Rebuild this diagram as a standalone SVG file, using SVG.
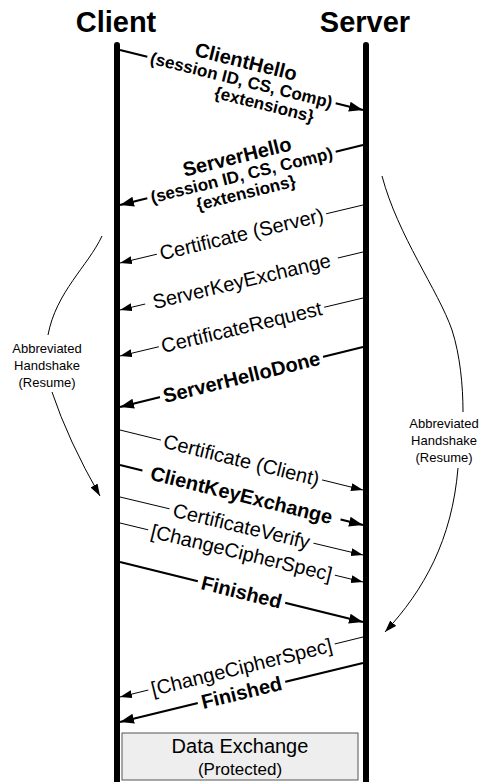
<svg xmlns="http://www.w3.org/2000/svg" width="481" height="782" viewBox="0 0 481 782">
<defs>
<marker id="ah" markerUnits="userSpaceOnUse" markerWidth="14" markerHeight="10" refX="12" refY="4" orient="auto"><path d="M0,0 L12,4 L0,8 z" fill="#000"/></marker>
<marker id="ahb" markerUnits="userSpaceOnUse" markerWidth="16" markerHeight="12" refX="14" refY="5" orient="auto"><path d="M0,0 L14,5 L0,10 z" fill="#000"/></marker>
<marker id="ahc" markerUnits="userSpaceOnUse" markerWidth="14" markerHeight="10" refX="12" refY="4" orient="auto"><path d="M0,0 L12,4 L0,8 z" fill="#000"/></marker>
</defs>
<style>
text{font-family:"Liberation Sans",Arial,sans-serif;fill:#000;text-anchor:middle}
.title{font-size:29px;font-weight:bold}
.lbl{font-size:20px}
.lblb{font-size:20px;font-weight:bold}
.sub{font-size:17px;font-weight:bold}
.note{font-size:13px}
.life{stroke:#000;stroke-width:6;stroke-linecap:round;fill:none}
.msg{stroke:#000;stroke-width:1;fill:none;marker-end:url(#ah)}
.msgb{stroke:#000;stroke-width:2.2;fill:none;marker-end:url(#ahb)}
.curve{stroke:#000;stroke-width:1;fill:none}
.bg{fill:#fff}
</style>

<g id="client">
<text class="title" x="116" y="32">Client</text>
<line class="life" x1="117" y1="45" x2="117" y2="790"/>
</g>
<g id="server">
<text class="title" x="365" y="32">Server</text>
<line class="life" x1="366" y1="45" x2="366" y2="790"/>
</g>

<g id="connectors">
<line class="msgb" x1="120" y1="50" x2="363" y2="110"/>
<line class="msgb" x1="363" y1="145" x2="120" y2="205"/>
<line class="msg" x1="363" y1="205" x2="120" y2="263"/>
<line class="msg" x1="363" y1="252" x2="120" y2="310"/>
<line class="msg" x1="363" y1="298" x2="120" y2="356"/>
<line class="msgb" x1="363" y1="347" x2="120" y2="407"/>
<line class="msg" x1="120" y1="430" x2="363" y2="490"/>
<line class="msgb" x1="120" y1="465" x2="363" y2="525"/>
<line class="msg" x1="120" y1="497" x2="363" y2="555"/>
<line class="msg" x1="120" y1="523" x2="363" y2="582"/>
<line class="msgb" x1="120" y1="562" x2="363" y2="622"/>
<line class="msg" x1="363" y1="637" x2="120" y2="697"/>
<line class="msgb" x1="363" y1="663" x2="120" y2="722"/>

<g transform="translate(241.5,80) rotate(13.87)">
<rect class="bg" x="-97" y="-8" width="194" height="16"/>
<text class="lblb" x="0" y="-12">ClientHello</text>
<text class="sub" x="0" y="6">(session ID, CS, Comp)</text>
<text class="sub" x="28" y="24">{extensions}</text>
</g>
<g transform="translate(241.5,175) rotate(-13.87)">
<rect class="bg" x="-97" y="-8" width="194" height="16"/>
<text class="lblb" x="0" y="-12">ServerHello</text>
<text class="sub" x="0" y="6">(session ID, CS, Comp)</text>
<text class="sub" x="0" y="24">{extensions}</text>
</g>
<g transform="translate(241.5,234) rotate(-13.42)">
<rect class="bg" x="-87" y="-8" width="174" height="16"/>
<text class="lbl" x="0" y="7">Certificate (Server)</text>
</g>
<g transform="translate(241.5,281) rotate(-13.42)">
<rect class="bg" x="-99" y="-8" width="198" height="16"/>
<text class="lbl" x="0" y="7">ServerKeyExchange</text>
</g>
<g transform="translate(241.5,327) rotate(-13.42)">
<rect class="bg" x="-85" y="-8" width="170" height="16"/>
<text class="lbl" x="0" y="7">CertificateRequest</text>
</g>
<g transform="translate(241.5,377) rotate(-13.87)">
<rect class="bg" x="-84" y="-8" width="168" height="16"/>
<text class="lblb" x="0" y="7">ServerHelloDone</text>
</g>
<g transform="translate(241.5,460) rotate(13.87)">
<rect class="bg" x="-83" y="-8" width="166" height="16"/>
<text class="lbl" x="0" y="7">Certificate (Client)</text>
</g>
<g transform="translate(241.5,495) rotate(13.87)">
<rect class="bg" x="-102" y="-8" width="204" height="16"/>
<text class="lblb" x="0" y="7">ClientKeyExchange</text>
</g>
<g transform="translate(241.5,526) rotate(13.42)">
<rect class="bg" x="-74" y="-8" width="148" height="16"/>
<text class="lbl" x="0" y="7">CertificateVerify</text>
</g>
<g transform="translate(241.5,552.5) rotate(13.65)">
<rect class="bg" x="-96" y="-8" width="192" height="16"/>
<text class="lbl" x="0" y="7">[ChangeCipherSpec]</text>
</g>
<g transform="translate(241.5,592) rotate(13.87)">
<rect class="bg" x="-45" y="-8" width="90" height="16"/>
<text class="lblb" x="0" y="7">Finished</text>
</g>
<g transform="translate(241.5,667) rotate(-13.87)">
<rect class="bg" x="-96" y="-8" width="192" height="16"/>
<text class="lbl" x="0" y="7">[ChangeCipherSpec]</text>
</g>
<g transform="translate(241.5,692.5) rotate(-13.65)">
<rect class="bg" x="-45" y="-8" width="90" height="16"/>
<text class="lblb" x="0" y="7">Finished</text>
</g>
</g>

<g id="note-left">
<path class="curve" d="M102,236 C88,266 56,292 48,335"/>
<path class="curve" d="M52,392 Q68,440 100,496" marker-end="url(#ahc)"/>
<text class="note" x="47" y="353">Abbreviated</text>
<text class="note" x="47" y="370">Handshake</text>
<text class="note" x="47" y="387">(Resume)</text>
</g>
<g id="note-right">
<path class="curve" d="M382,176 C398,236 438,290 452,330 C460,355 463,385 463,412"/>
<path class="curve" d="M458,468 C452,540 424,590 385,632" marker-end="url(#ahc)"/>
<text class="note" x="444" y="428">Abbreviated</text>
<text class="note" x="444" y="445">Handshake</text>
<text class="note" x="444" y="462">(Resume)</text>
</g>

<g id="data-exchange">
<rect x="122" y="733" width="236" height="47" fill="#eeeeee" stroke="#555" stroke-width="1"/>
<text x="240" y="753" style="font-size:20px">Data Exchange</text>
<text x="240" y="775" style="font-size:17px">(Protected)</text>
</g>
</svg>
